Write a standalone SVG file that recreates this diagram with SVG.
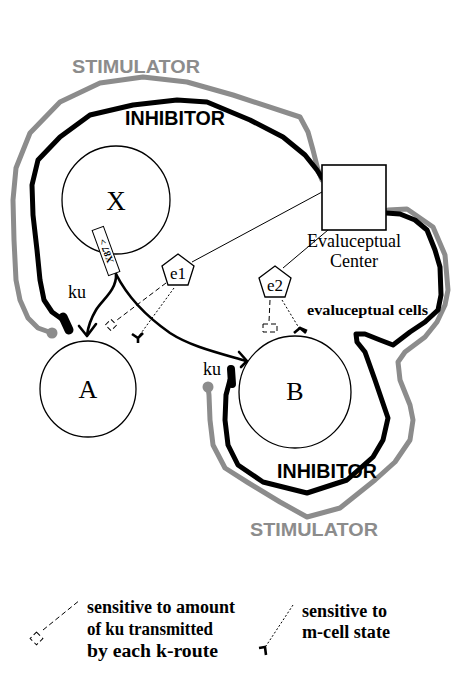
<svg xmlns="http://www.w3.org/2000/svg" width="454" height="681" viewBox="0 0 454 681">
<style>
.blk{fill:none;stroke:#000;stroke-width:5;stroke-linejoin:round;stroke-linecap:round}
.gry{fill:none;stroke:#8c8c8c;stroke-width:5;stroke-linejoin:round;stroke-linecap:round}
.ku{fill:none;stroke:#000;stroke-width:2.6;stroke-linecap:round;stroke-linejoin:round}
.thin{fill:none;stroke:#000;stroke-width:1}
.dash{fill:none;stroke:#000;stroke-width:1;stroke-dasharray:5,3}
.dot{fill:none;stroke:#000;stroke-width:1;stroke-dasharray:2,2}
.rec{fill:none;stroke:#000;stroke-width:2.6;stroke-linecap:butt;stroke-linejoin:miter}
.cell{fill:#fff;stroke:#000;stroke-width:1.3}
.serif{font-family:"Liberation Serif","Times New Roman",serif;fill:#000}
.sans{font-family:"Liberation Sans",Arial,sans-serif;font-weight:bold}
</style>
<rect width="454" height="681" fill="#fff"/>
<g id="connectors">
  <polyline class="gry" points="52,333 38,328 28,318 20,300 16,280 14,240 13,200 16,168 30,133 60,102 100,83 143,77 187,82 233,95 300,117 308,132 313,150 318,170 322,180"/>
  <polyline class="blk" points="66,322 52,312 44,300 40,280 37,250 33,215 32,185 38,160 60,137 90,115 133,105 177,100 207,102 250,120 283,137 305,155 317,170 322,178"/>
  <polyline class="gry" points="388,210 407,209 433,227 445,255 448,290 445,305 437,322 425,337 405,352 398,362 400,380 410,405 413,420 410,440 395,462 375,480 340,508 307,517 280,502 247,482 225,468 213,445 210,420 209,395 208,387"/>
  <polyline class="blk" points="386,213 400,214 415,220 427,230 435,250 440,267 441,295 438,310 425,322 410,332 393,345 380,340 365,334 356,334 357,342 365,352 375,380 388,418 383,440 373,457 347,480 307,493 263,482 238,465 228,445 225,420 226,395 230,380"/>
  <circle cx="52" cy="333" r="5.5" fill="#8c8c8c"/>
  <line x1="63" y1="317" x2="69" y2="330" stroke="#000" stroke-width="9" stroke-linecap="round"/>
  <circle cx="208" cy="387" r="5.5" fill="#8c8c8c"/>
  <line x1="231" y1="369" x2="232" y2="384" stroke="#000" stroke-width="8" stroke-linecap="round"/>
  <path class="ku" d="M116,274 C117,290 102,300 96,310 C90,320 88,328 87,335"/>
  <polyline class="ku" points="79,326 87,336 96,324"/>
  <path class="ku" d="M116,274 C125,292 140,312 170,333 C190,346 215,352 246,361"/>
  <polyline class="ku" points="239,352 247,361 241,367"/>
  <line class="thin" x1="322" y1="192" x2="192" y2="262"/>
  <line class="thin" x1="328" y1="230" x2="283" y2="268"/>
  <line class="dash" x1="166" y1="283" x2="117" y2="320"/>
  <rect class="dash" x="107" y="321" width="8" height="8" transform="rotate(45 111 325)" stroke-dasharray="2,1.5"/>
  <line class="dot" x1="174" y1="288" x2="139" y2="336"/>
  <path class="rec" d="M132,334 L138,338 L143,333 M138,338 L138,343"/>
  <line class="dash" x1="270" y1="300" x2="269" y2="322"/>
  <rect class="dash" x="263" y="324" width="14" height="8" stroke-dasharray="2,1.5"/>
  <line class="dot" x1="282" y1="300" x2="299" y2="328"/>
  <path class="rec" d="M294,333 L300,328 L306,333 M300,328 L307,331"/>
</g>
<g id="X">
  <circle cx="116" cy="200" r="54" class="cell"/>
  <text x="116" y="210" class="serif" font-size="27" text-anchor="middle">X</text>
</g>
<g id="ku-label">
  <g transform="translate(106,251) rotate(-110)">
    <rect x="-24" y="-6" width="48" height="12" fill="#fff" stroke="#000" stroke-width="1"/>
    <text x="0" y="3.5" class="serif" font-size="10" font-weight="bold" text-anchor="middle">X87 &gt;</text>
  </g>
</g>
<g id="A">
  <circle cx="88" cy="389" r="48" class="cell"/>
  <text x="88" y="398" class="serif" font-size="26" text-anchor="middle">A</text>
</g>
<g id="B">
  <circle cx="295" cy="392" r="56" class="cell"/>
  <text x="295" y="400" class="serif" font-size="26" text-anchor="middle">B</text>
</g>
<g id="center">
  <rect x="322" y="165" width="64" height="65" fill="#fff" stroke="#000" stroke-width="1.6"/>
  <text x="354" y="247" class="serif" font-size="18" text-anchor="middle">Evaluceptual</text>
  <text x="354" y="267" class="serif" font-size="18" text-anchor="middle">Center</text>
</g>
<g id="e1">
  <polygon points="178,254 194,266 188,285 168,285 162,266" class="cell"/>
  <text x="178" y="279" class="serif" font-size="17" text-anchor="middle">e1</text>
</g>
<g id="e2">
  <polygon points="275,266 291,278 285,297 265,297 259,278" class="cell"/>
  <text x="275" y="291" class="serif" font-size="17" text-anchor="middle">e2</text>
</g>
<g id="labels">
  <text x="72" y="73" class="sans" font-size="19" fill="#8c8c8c" textLength="128" lengthAdjust="spacingAndGlyphs">STIMULATOR</text>
  <text x="125" y="125" class="sans" font-size="19.5" fill="#000" textLength="100" lengthAdjust="spacingAndGlyphs">INHIBITOR</text>
  <text x="277" y="478" class="sans" font-size="19.5" fill="#000" textLength="100" lengthAdjust="spacingAndGlyphs">INHIBITOR</text>
  <text x="250" y="536" class="sans" font-size="19" fill="#8c8c8c" textLength="128" lengthAdjust="spacingAndGlyphs">STIMULATOR</text>
  <text x="68" y="298" class="serif" font-size="18">ku</text>
  <text x="203" y="375" class="serif" font-size="18">ku</text>
  <text x="307" y="315" class="serif" font-size="14" font-weight="bold" textLength="121" lengthAdjust="spacingAndGlyphs">evaluceptual cells</text>
</g>
<g id="legend">
  <line class="dash" x1="43" y1="630" x2="80" y2="600"/>
  <rect class="dash" x="32" y="634" width="9" height="9" transform="rotate(45 36.5 638.5)" stroke-dasharray="2,1.5"/>
  <text x="87" y="613" class="serif" font-size="18" font-weight="bold" textLength="148" lengthAdjust="spacingAndGlyphs">sensitive to amount</text>
  <text x="87" y="635" class="serif" font-size="18" font-weight="bold" textLength="126" lengthAdjust="spacingAndGlyphs">of ku transmitted</text>
  <text x="87" y="657" class="serif" font-size="18" font-weight="bold" textLength="131" lengthAdjust="spacingAndGlyphs">by each k-route</text>
  <line class="dot" x1="293" y1="605" x2="266" y2="646"/>
  <path class="rec" d="M259,648 L265,647 L266,655" stroke-width="3"/>
  <text x="302" y="617" class="serif" font-size="18" font-weight="bold" textLength="85" lengthAdjust="spacingAndGlyphs">sensitive to</text>
  <text x="302" y="638" class="serif" font-size="18" font-weight="bold" textLength="88" lengthAdjust="spacingAndGlyphs">m-cell state</text>
</g>
</svg>
